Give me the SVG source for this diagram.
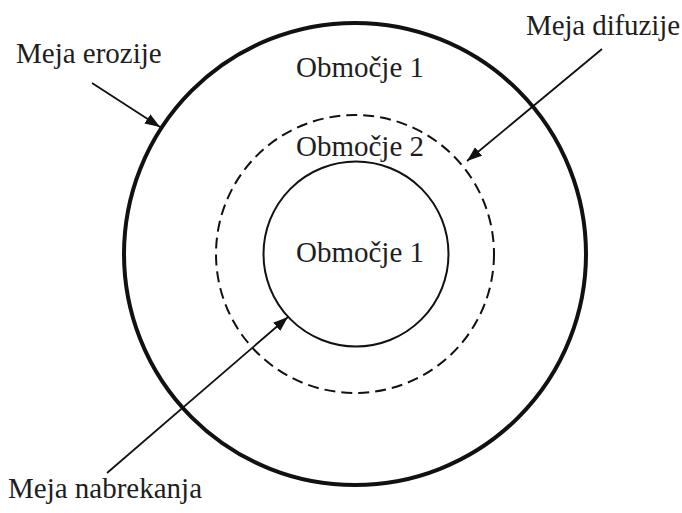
<svg xmlns="http://www.w3.org/2000/svg" width="682" height="513" viewBox="0 0 682 513">
  <style>
    .lbl { font-family: "Liberation Serif", "Times New Roman", serif; font-size: 29px; fill: #1e1e1e; }
    .ring { fill: none; stroke: #111; }
    .conn { stroke: #111; stroke-width: 1.8; fill: none; marker-end: url(#arrow); }
  </style>
  <defs>
    <marker id="arrow" markerUnits="userSpaceOnUse" markerWidth="16" markerHeight="12" refX="15" refY="5.5" orient="auto">
      <path d="M0,0 L15,5.5 L0,11 z" fill="#111"/>
    </marker>
  </defs>
  <rect width="682" height="513" fill="#ffffff"/>

  <g id="erosion-boundary">
    <circle class="ring" cx="355" cy="254" r="231" stroke-width="4"/>
  </g>
  <g id="diffusion-boundary">
    <circle class="ring" cx="355" cy="254" r="139" stroke-width="2" stroke-dasharray="11 6"/>
  </g>
  <g id="swelling-boundary">
    <circle class="ring" cx="356" cy="254" r="92.5" stroke-width="2"/>
  </g>

  <g id="region-outer">
    <text class="lbl" x="296" y="77">Območje 1</text>
  </g>
  <g id="region-middle">
    <text class="lbl" x="296" y="156">Območje 2</text>
  </g>
  <g id="region-inner">
    <text class="lbl" x="296" y="262">Območje 1</text>
  </g>

  <g id="label-erosion">
    <text class="lbl" x="16" y="63">Meja erozije</text>
  </g>
  <g id="label-diffusion">
    <text class="lbl" x="526" y="35" textLength="154" lengthAdjust="spacing">Meja difuzije</text>
  </g>
  <g id="label-swelling">
    <text class="lbl" x="8" y="498">Meja nabrekanja</text>
  </g>

  <g id="connectors">
    <line class="conn" x1="92" y1="83" x2="160" y2="127"/>
    <line class="conn" x1="602" y1="49" x2="467" y2="161"/>
    <line class="conn" x1="107" y1="473" x2="288" y2="317"/>
  </g>
</svg>
